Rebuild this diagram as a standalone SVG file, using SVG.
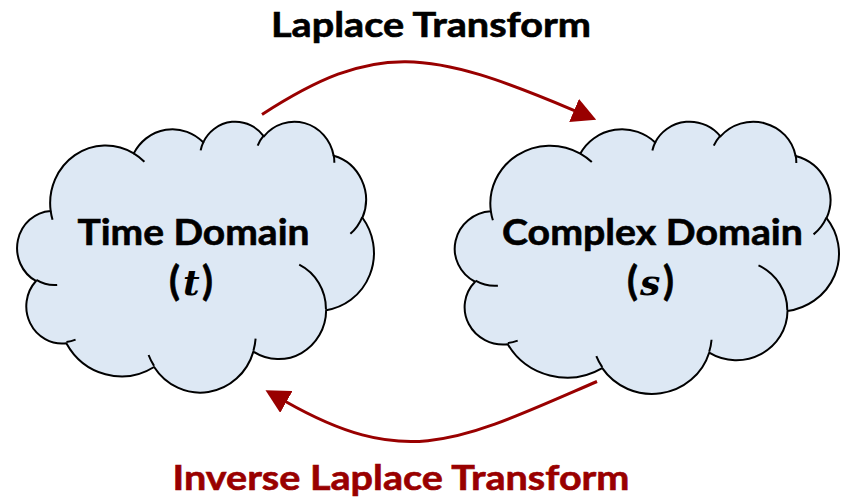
<svg xmlns="http://www.w3.org/2000/svg" xmlns:xlink="http://www.w3.org/1999/xlink" width="841" height="499" viewBox="0 0 841 499">
<style>
.cloud{fill:#DDE8F4;stroke:#000;stroke-width:2;vector-effect:non-scaling-stroke;stroke-linejoin:round}
.crease{fill:none;stroke:#000;stroke-width:2;vector-effect:non-scaling-stroke}
.lbl{font-family:Lato,"Liberation Sans",sans-serif;font-weight:bold;stroke-width:0.6;paint-order:stroke}
.blk{fill:#000;stroke:#000}
.red{fill:#990000;stroke:#990000}
.math{font-family:"DejaVu Serif","Liberation Serif",serif;font-weight:bold;font-style:italic;fill:#000}
.conn{fill:none;stroke:#990000;stroke-width:3}
</style>
<defs>
<path id="cloudShape" class="cloud" d="M39,143.7 A67.53,91.9 0 0 1 140.05,52.02 A53.33,72.67 0 0 1 224.57,34.32 A43.65,59.45 0 0 1 298.33,24.81 A48.57,65.95 0 0 1 383.18,55.76 A53.33,72.73 0 0 1 418.19,154.6 A67.75,92.2 0 0 1 374.05,302.03 A57.85,78.67 0 0 1 285.56,368.13 A67.52,92.15 0 0 1 164.8,392.64 A77.2,105.43 0 0 1 58.05,354.7 A43.6,59.18 0 0 1 21.13,255.48 A43.45,59.45 0 0 1 39,143.7 Z"/>
<path id="cloudCrease" class="crease" d="M46.93,261.77 A43.45,59.45 0 0 1 21.6,253.8 M69.28,348.99 A43.6,59.18 0 0 1 58.2,352.81 M164.78,390.9 A67.52,92.15 0 0 1 158.1,373.5 M288.27,347.51 A67.52,92.15 0 0 1 285.6,366.6 M341.29,229.54 A57.85,78.67 0 0 1 373.81,300.9 M417.98,153.54 A53.33,72.73 0 0 1 403.5,180.3 M383.24,54.26 A48.57,65.95 0 0 1 384,66.9 M290.78,39.52 A48.57,65.95 0 0 1 298.2,23.4 M221.41,47.2 A43.65,59.45 0 0 1 225,33.3 M140,51.92 A67.53,91.9 0 0 1 153,65.4 M41.27,157.89 A67.53,91.9 0 0 1 39,143.71"/>
<marker id="ah" markerUnits="userSpaceOnUse" viewBox="0 0 24 25" markerWidth="24" markerHeight="25" refX="1" refY="12.5" orient="auto">
<path d="M0,0 L24,12.5 L0,25 Z" fill="#990000"/>
</marker>
</defs>

<g id="node-time">
<g transform="translate(18.6,120.8) scale(0.8222,0.627)">
<use xlink:href="#cloudShape"/>
<use xlink:href="#cloudCrease"/>
</g>
<text class="lbl blk" x="77.5" y="245" font-size="36" textLength="232" lengthAdjust="spacingAndGlyphs">Time Domain</text>
<text class="lbl blk" x="169" y="295" font-size="40">(</text>
<text class="math" x="183" y="295" font-size="36">t</text>
<text class="lbl blk" x="202" y="295" font-size="40">)</text>
</g>

<g id="node-complex">
<g transform="translate(456.35,120.8) scale(0.8853,0.63)">
<use xlink:href="#cloudShape"/>
<use xlink:href="#cloudCrease"/>
</g>
<text class="lbl blk" x="502" y="245" font-size="36" textLength="301" lengthAdjust="spacingAndGlyphs">Complex Domain</text>
<text class="lbl blk" x="627" y="295" font-size="40">(</text>
<text class="math" x="640" y="295" font-size="36">s</text>
<text class="lbl blk" x="663" y="295" font-size="40">)</text>
</g>

<g id="connectors">
<path id="edge-laplace" class="conn" d="M262,114.5 C375.4,41.2 427.6,48.2 575,110.8" marker-end="url(#ah)"/>
<path id="edge-inverse" class="conn" d="M597,381.5 C459.3,441.05 407.3,470.7 285.5,401.5" marker-end="url(#ah)"/>
</g>

<g id="edge-labels">
<text class="lbl blk" x="271" y="37.3" font-size="34.5" textLength="320" lengthAdjust="spacingAndGlyphs">Laplace Transform</text>
<text class="lbl red" x="172.5" y="490" font-size="35" textLength="457" lengthAdjust="spacingAndGlyphs">Inverse Laplace Transform</text>
</g>
</svg>
